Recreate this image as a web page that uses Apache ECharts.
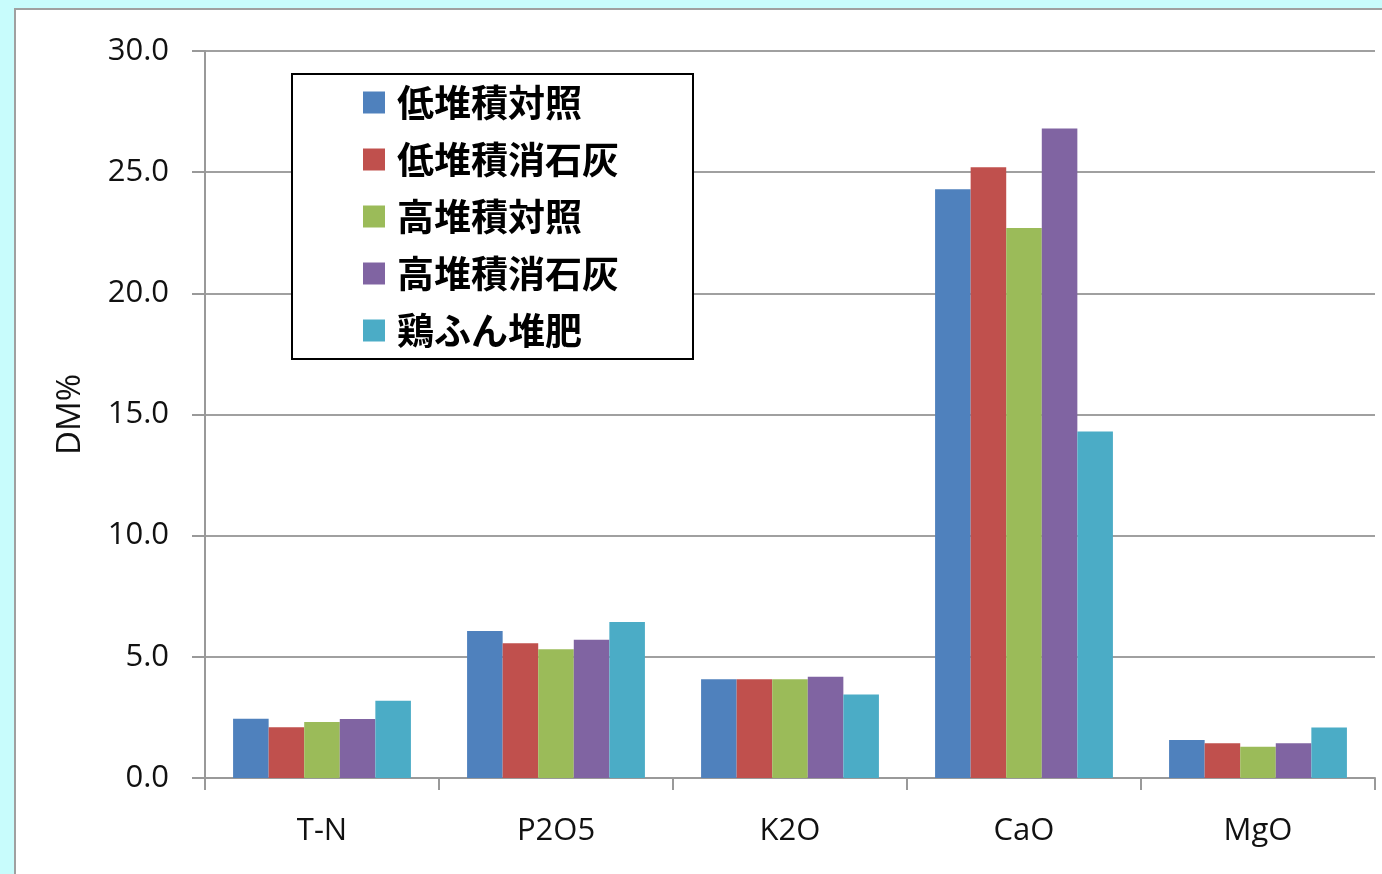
<!DOCTYPE html>
<html>
<head>
<meta charset="utf-8">
<script src="https://cdn.jsdelivr.net/npm/echarts@6/dist/echarts.min.js"></script>
<style>html,body{margin:0;padding:0;background:#C8FCFC;}#c{width:1382px;height:874px;}</style>
</head>
<body>
<div id="c"></div>
<script>
var categories = ['T-N', 'P2O5', 'K2O', 'CaO', 'MgO'];
var seriesNames = ['低堆積対照', '低堆積消石灰', '高堆積対照', '高堆積消石灰', '鶏ふん堆肥'];
var lowControl = [2.45, 6.07, 4.07, 24.3, 1.57];
var lowLime = [2.09, 5.56, 4.07, 25.2, 1.43];
var highControl = [2.31, 5.31, 4.07, 22.7, 1.29];
var highLime = [2.43, 5.70, 4.18, 26.8, 1.43];
var chickenManure = [3.19, 6.44, 3.45, 14.3, 2.08];
var yTicks = ['0.0', '5.0', '10.0', '15.0', '20.0', '25.0', '30.0'];
var colors = ['#4F81BD', '#C0504D', '#9BBB59', '#8064A2', '#4BACC6'];

var values = [lowControl, lowLime, highControl, highLime, chickenManure];
var chart = echarts.init(document.getElementById('c'));
var series = seriesNames.map(function (n, i) {
  return {
    name: n, type: 'bar', data: values[i],
    barGap: '0%', barCategoryGap: '24%',
    itemStyle: { color: colors[i] }
  };
});
chart.setOption({
  backgroundColor: '#C8FCFC',
  animation: false,
  color: colors,
  graphic: [{
    type: 'rect', z: -100, silent: true,
    shape: { x: 15, y: 9, width: 1400, height: 900 },
    style: { fill: '#ffffff', stroke: '#a0a0a0', lineWidth: 2 }
  }],
  grid: { left: 205, top: 51, right: 7, bottom: 96 },
  legend: {
    orient: 'vertical', left: 292, top: 74,
    padding: [10, 74, 10, 71],
    itemWidth: 22, itemHeight: 22, itemGap: 20,
    icon: 'rect',
    backgroundColor: '#ffffff', borderColor: '#000000', borderWidth: 2,
    textStyle: { fontFamily: 'Noto Sans CJK JP', fontSize: 37, lineHeight: 36, fontWeight: 'bold', color: '#000', padding: [0, 0, 0, 7] },
    data: seriesNames
  },
  xAxis: {
    type: 'category', data: categories,
    axisLine: { lineStyle: { color: '#999999', width: 2 } },
    axisTick: { show: true, length: 12, lineStyle: { color: '#999999', width: 2 } },
    axisLabel: { margin: 38, fontFamily: 'Open Sans', fontSize: 31, color: '#111' }
  },
  yAxis: {
    type: 'value', min: 0, max: 30, interval: 5,
    name: 'DM%', nameLocation: 'middle', nameRotate: 90, nameGap: 118,
    nameTextStyle: { fontFamily: 'Open Sans', fontSize: 33, color: '#111' },
    axisLine: { show: true, lineStyle: { color: '#999999', width: 2 } },
    axisTick: { show: true, length: 13, lineStyle: { color: '#999999', width: 2 } },
    splitLine: { lineStyle: { color: '#a0a0a0', width: 2 } },
    axisLabel: {
      margin: 36, fontFamily: 'Open Sans', fontSize: 31, color: '#111',
      formatter: function (v) { return yTicks[Math.round(v / 5)]; }
    }
  },
  series: series
});
</script>
</body>
</html>
